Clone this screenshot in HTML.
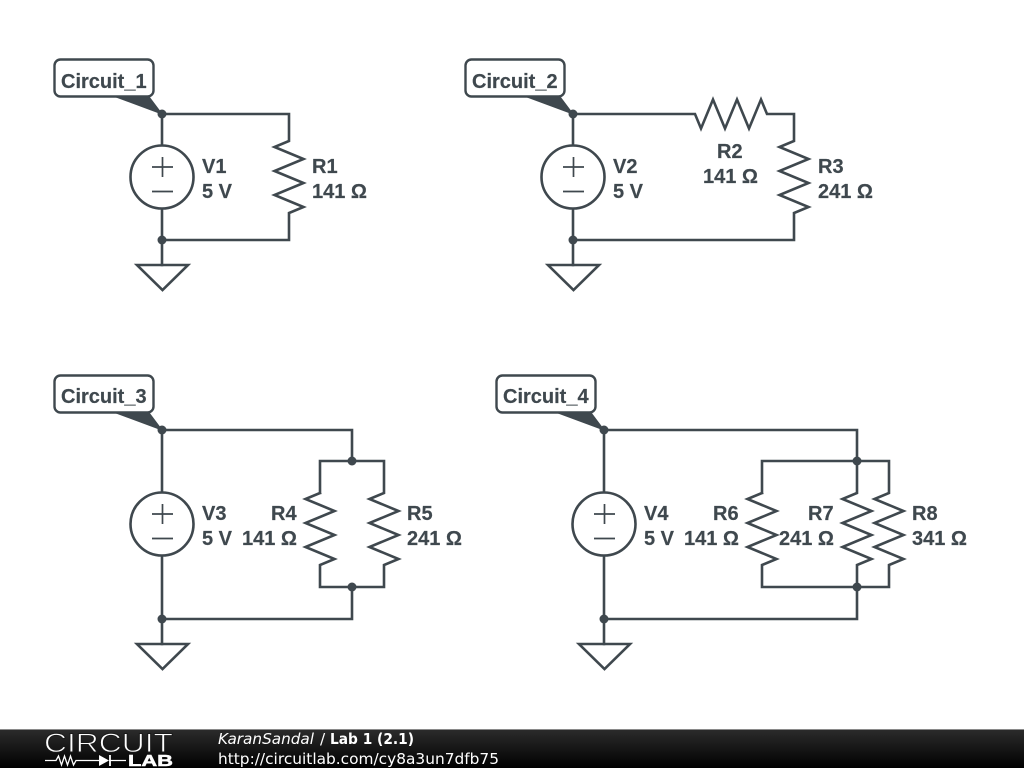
<!DOCTYPE html>
<html><head><meta charset="utf-8"><style>
html,body{margin:0;padding:0;background:#fff;width:1024px;height:768px;overflow:hidden}
svg{display:block;filter:blur(.35px)}
.w{fill:none;stroke:#3f484e;stroke-width:2.6;stroke-linejoin:miter;stroke-linecap:square}
.s{fill:none;stroke:#3f484e;stroke-width:1.7}
.t{font:bold 20px "Liberation Sans",sans-serif;fill:#3f484e;stroke:#3f484e;stroke-width:.2px}
.p{fill:#3f484e;stroke:#3f484e;stroke-width:1;stroke-linejoin:round}
.d{fill:#3f484e}
.b{fill:#fff;stroke:#3f484e;stroke-width:2.4}
.f{font:15.4px "DejaVu Sans",sans-serif;fill:#fff}
.i{font:italic 15.4px "DejaVu Sans",sans-serif;fill:#fff}
.o{font:bold 15.4px "DejaVu Sans",sans-serif;fill:#fff}
</style></head><body>
<svg width="1024" height="768" viewBox="0 0 1024 768" xmlns="http://www.w3.org/2000/svg">
<defs>
<linearGradient id="g" x1="0" y1="0" x2="0" y2="1"><stop offset="0" stop-color="#2c2c2c"/><stop offset="0.5" stop-color="#161616"/><stop offset="1" stop-color="#000"/></linearGradient>
</defs>
<rect width="1024" height="768" fill="#fff"/>

<!-- Circuit 1 -->
<path class="w" d="M162 145V114H289V141L274.500 147L303.500 159L274.500 171L303.500 183L274.500 195L303.500 207L289 213V240H162V209M162 240V265"/>
<circle class="w" cx="162" cy="177" r="31.500"/>
<path class="s" d="M152 167H173M162.500 157V177M152 191.500H173"/>
<path class="w" d="M137 265H188L162.500 290Z"/>
<circle cx="162" cy="114" r="4.500" class="d"/><circle cx="162" cy="240" r="4.500" class="d"/>
<path class="p" d="M108 94H147L162 114Z"/>
<rect x="54.500" y="59.500" width="99" height="37" rx="6" class="b"/>
<text class="t" x="61" y="88">Circuit_1</text>
<text class="t" x="202" y="173">V1</text><text class="t" x="202" y="198">5 V</text>
<text class="t" x="312" y="173">R1</text><text class="t" x="312" y="198">141 Ω</text>

<!-- Circuit 2 -->
<path class="w" d="M573 145V114H695L701 128.500L713 99.500L725 128.500L737 99.500L749 128.500L761 99.500L767 114H794V141L779.500 147L808.500 159L779.500 171L808.500 183L779.500 195L808.500 207L794 213V240H573V209M573 240V265"/>
<circle class="w" cx="573" cy="177" r="31.500"/>
<path class="s" d="M563 167H584M573.500 157V177M563 191.500H584"/>
<path class="w" d="M548 265H599L573.500 290Z"/>
<circle cx="573" cy="114" r="4.500" class="d"/><circle cx="573" cy="240" r="4.500" class="d"/>
<path class="p" d="M519 94H558L573 114Z"/>
<rect x="465.500" y="59.500" width="99" height="37" rx="6" class="b"/>
<text class="t" x="472" y="88">Circuit_2</text>
<text class="t" x="613" y="173">V2</text><text class="t" x="613" y="198">5 V</text>
<text class="t" x="717" y="158">R2</text><text class="t" x="703" y="183">141 Ω</text>
<text class="t" x="818" y="173">R3</text><text class="t" x="818" y="198">241 Ω</text>

<!-- Circuit 3 -->
<path class="w" d="M162 492V430H352V461M162 556V619H352V587M162 619V644"/>
<path class="w" d="M320 493V461H384V493L369.500 499L398.500 511L369.500 523L398.500 535L369.500 547L398.500 559L384 565V587H320V565L334.500 559L305.500 547L334.500 535L305.500 523L334.500 511L305.500 499L320 493"/>
<circle class="w" cx="162" cy="524" r="31.500"/>
<path class="s" d="M152 514H173M162.500 504V524M152 538.500H173"/>
<path class="w" d="M137 644H188L162.500 669Z"/>
<circle cx="162" cy="430" r="4.500" class="d"/><circle cx="162" cy="619" r="4.500" class="d"/>
<circle cx="352" cy="461" r="4.500" class="d"/><circle cx="352" cy="587" r="4.500" class="d"/>
<path class="p" d="M108 410H147L162 430Z"/>
<rect x="54.500" y="375.500" width="99" height="37" rx="6" class="b"/>
<text class="t" x="61" y="403">Circuit_3</text>
<text class="t" x="202" y="520">V3</text><text class="t" x="202" y="545">5 V</text>
<text class="t" x="271" y="520">R4</text><text class="t" x="242" y="545">141 Ω</text>
<text class="t" x="407" y="520">R5</text><text class="t" x="407" y="545">241 Ω</text>

<!-- Circuit 4 -->
<path class="w" d="M604 492V430H857V461M604 556V619H857V587M604 619V644"/>
<path class="w" d="M762 493V461H889V493L874.500 499L903.500 511L874.500 523L903.500 535L874.500 547L903.500 559L889 565V587H762V565L776.500 559L747.500 547L776.500 535L747.500 523L776.500 511L747.500 499L762 493"/>
<path class="w" d="M857 461V493L842.500 499L871.500 511L842.500 523L871.500 535L842.500 547L871.500 559L857 565V587"/>
<circle class="w" cx="604" cy="524" r="31.500"/>
<path class="s" d="M594 514H615M604.500 504V524M594 538.500H615"/>
<path class="w" d="M579 644H630L604.500 669Z"/>
<circle cx="604" cy="430" r="4.500" class="d"/><circle cx="604" cy="619" r="4.500" class="d"/>
<circle cx="857" cy="461" r="4.500" class="d"/><circle cx="857" cy="587" r="4.500" class="d"/>
<path class="p" d="M550 410H589L604 430Z"/>
<rect x="496.500" y="375.500" width="99" height="37" rx="6" class="b"/>
<text class="t" x="503" y="403">Circuit_4</text>
<text class="t" x="644" y="520">V4</text><text class="t" x="644" y="545">5 V</text>
<text class="t" x="713" y="520">R6</text><text class="t" x="684" y="545">141 Ω</text>
<text class="t" x="808" y="520">R7</text><text class="t" x="779" y="545">241 Ω</text>
<text class="t" x="912" y="520">R8</text><text class="t" x="912" y="545">341 Ω</text>

<!-- Footer -->
<rect x="0" y="729" width="1024" height="39" fill="url(#g)"/>
<rect x="0" y="729" width="1024" height="1" fill="#8a8a8a"/>
<text x="44" y="752" textLength="129" lengthAdjust="spacingAndGlyphs" style="font:27px 'Liberation Sans',sans-serif;fill:#fff;stroke:#1a1a1a;stroke-width:.9px">CIRCUIT</text>
<path d="M45 760.500H56L58.500 756L61.500 765L64.500 756L67.500 765L70.500 756L73.500 765L76 760.500H99M109 760.500H126" fill="none" stroke="#fff" stroke-width="1.300"/>
<path d="M99 755V766L109 760.500Z" fill="#fff"/><path d="M110 755V766" stroke="#fff" stroke-width="1.800"/>
<text x="128" y="766" textLength="45" lengthAdjust="spacingAndGlyphs" style="font:bold 15.500px 'Liberation Sans',sans-serif;fill:#fff;stroke:#fff;stroke-width:.5px">LAB</text>
<text class="i" x="218" y="744" textLength="96" lengthAdjust="spacingAndGlyphs">KaranSandal</text>
<text class="f" x="320" y="744">/</text>
<text class="o" x="330" y="744" textLength="84" lengthAdjust="spacingAndGlyphs">Lab 1 (2.1)</text>
<text class="f" x="218" y="764" textLength="281" lengthAdjust="spacingAndGlyphs">http://circuitlab.com/cy8a3un7dfb75</text>
</svg>
</body></html>
